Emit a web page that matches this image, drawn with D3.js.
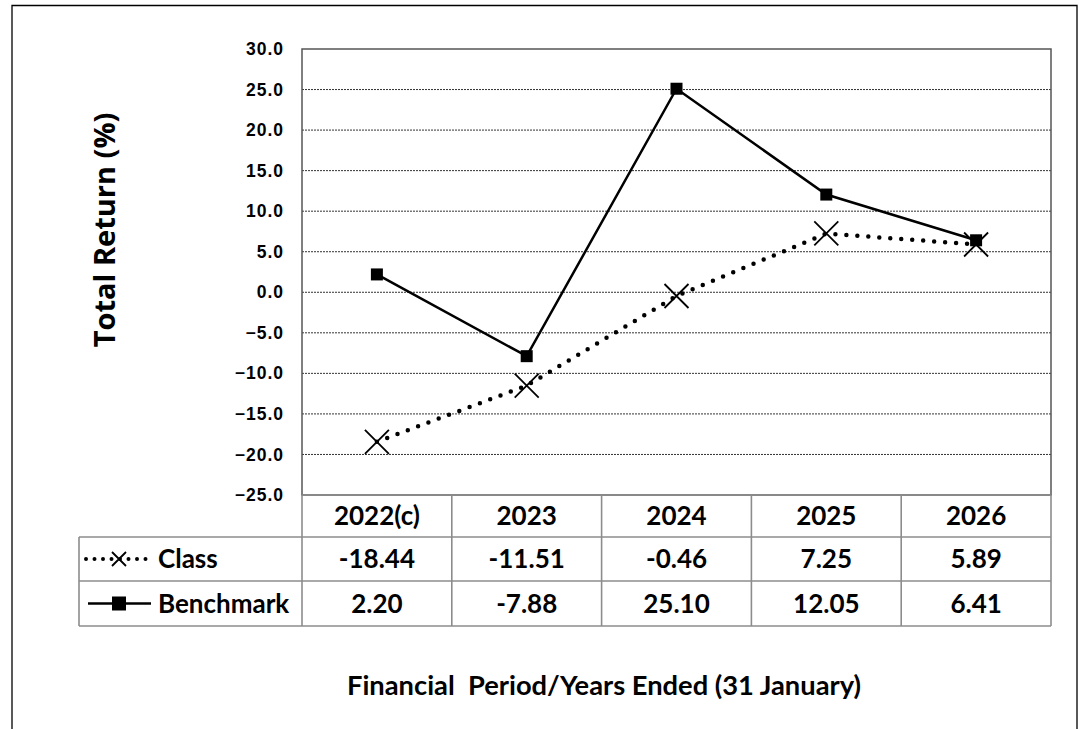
<!DOCTYPE html>
<html><head><meta charset="utf-8">
<script src="https://cdn.jsdelivr.net/npm/d3@7"></script>
<style>body{margin:0;background:#fff}</style>
</head><body>
<svg id="c" width="1079" height="729"></svg>
<script>
const categories = ["2022(c)", "2023", "2024", "2025", "2026"];
const classValues = [-18.44, -11.51, -0.46, 7.25, 5.89];
const benchmarkValues = [2.20, -7.88, 25.10, 12.05, 6.41];
const classLabels = ["-18.44", "-11.51", "-0.46", "7.25", "5.89"];
const benchmarkLabels = ["2.20", "-7.88", "25.10", "12.05", "6.41"];
const yTicks = [-25, -20, -15, -10, -5, 0, 5, 10, 15, 20, 25, 30];

const svg = d3.select("#c");
const L = 302, R = 1051, T = 49, B = 495;
const x = d3.scaleBand().domain(categories).range([L, R]);
const y = d3.scaleLinear().domain([-25, 30]).range([B, T]);

// outer frame
svg.append("path").attr("d", `M12,729 V5.5 H1077 V729`).attr("fill","none").attr("stroke","#000").attr("stroke-width",1.3);

// gridlines
svg.append("g").selectAll("line").data(yTicks.filter(d => d > -25 && d < 30)).join("line")
  .attr("x1", L).attr("x2", R).attr("y1", d => y(d)).attr("y2", d => y(d))
  .attr("stroke", "#333").attr("stroke-width", 1).attr("stroke-dasharray", "2,1");

// plot border
svg.append("rect").attr("x", L).attr("y", T).attr("width", R-L).attr("height", B-T)
  .attr("fill","none").attr("stroke","#555").attr("stroke-width",1.5);

// y axis labels
const yAxis = d3.axisLeft(y).tickValues(yTicks).tickSize(0).tickPadding(18).tickFormat(d3.format(".1f"));
const ga = svg.append("g").attr("transform", `translate(${L},0)`).call(yAxis);
ga.select(".domain").remove();
ga.selectAll("text").attr("font-family","Liberation Sans, Arial, sans-serif").attr("font-weight","bold")
  .attr("font-size", 17.5).attr("letter-spacing", 1).attr("fill","#000");

// y title
svg.append("text").attr("transform", "translate(115,230) rotate(-90)").attr("text-anchor","middle")
  .attr("font-family","Open Sans, sans-serif").attr("font-weight","bold").attr("font-size",29).text("Total Return (%)");

// lines
const cx = d => x(d) + x.bandwidth()/2;
const line = d3.line().x((d,i) => cx(categories[i])).y(d => y(d));
svg.append("path").attr("d", line(benchmarkValues)).attr("fill","none").attr("stroke","#000").attr("stroke-width",2.5);
svg.append("path").attr("d", line(classValues)).attr("fill","none").attr("stroke","#000").attr("stroke-width",4.5)
  .attr("stroke-linecap","round").attr("stroke-dasharray","0,11");

// markers
svg.append("g").selectAll("rect").data(benchmarkValues).join("rect")
  .attr("x", (d,i) => cx(categories[i]) - 6).attr("y", d => y(d) - 6).attr("width", 12).attr("height", 12).attr("fill","#000");
const cross = (g, s) => g.append("path").attr("d", `M${-s},${-s}L${s},${s}M${-s},${s}L${s},${-s}`).attr("stroke","#000").attr("stroke-width",1.8);
classValues.forEach((d,i) => cross(svg.append("g").attr("transform", `translate(${cx(categories[i])},${y(d)})`), 12));

// table
const rows = [495, 537, 581, 626];
const tL = 79;
const gray = "#8c8c8c";
const tg = svg.append("g").attr("stroke", gray).attr("stroke-width", 1.6).attr("fill","none");
tg.append("line").attr("x1", L).attr("x2", R).attr("y1", rows[0]).attr("y2", rows[0]);
tg.append("line").attr("x1", tL).attr("x2", R).attr("y1", rows[1]).attr("y2", rows[1]);
tg.append("line").attr("x1", tL).attr("x2", R).attr("y1", rows[2]).attr("y2", rows[2]);
tg.append("line").attr("x1", tL).attr("x2", R).attr("y1", rows[3]).attr("y2", rows[3]);
tg.append("line").attr("x1", tL).attr("x2", tL).attr("y1", rows[1]).attr("y2", rows[3]);
categories.forEach(c => tg.append("line").attr("x1", x(c)).attr("x2", x(c)).attr("y1", rows[0]).attr("y2", rows[3]));
tg.append("line").attr("x1", R).attr("x2", R).attr("y1", rows[0]).attr("y2", rows[3]);

const tf = (sel) => sel.attr("font-family","Lato, sans-serif").attr("font-weight","bold").attr("font-size",26).attr("fill","#000");
const mid = i => (rows[i] + rows[i+1]) / 2 + 9;
categories.forEach((c,i) => {
  tf(svg.append("text").attr("x", cx(c)).attr("y", mid(0)).attr("text-anchor","middle").text(c));
  tf(svg.append("text").attr("x", cx(c)).attr("y", mid(1)).attr("text-anchor","middle").text(classLabels[i]));
  tf(svg.append("text").attr("x", cx(c)).attr("y", mid(2)).attr("text-anchor","middle").text(benchmarkLabels[i]));
});
// legend keys
const ky1 = (rows[1]+rows[2])/2, ky2 = (rows[2]+rows[3])/2;
svg.append("line").attr("x1", 86).attr("x2", 151).attr("y1", ky1).attr("y2", ky1)
  .attr("stroke","#000").attr("stroke-width",4).attr("stroke-linecap","round").attr("stroke-dasharray","0,8.5");
cross(svg.append("g").attr("transform", `translate(119,${ky1})`), 7);
svg.append("line").attr("x1", 88).attr("x2", 151).attr("y1", ky2).attr("y2", ky2).attr("stroke","#000").attr("stroke-width",2.5);
svg.append("rect").attr("x", 112).attr("y", ky2-7).attr("width", 14).attr("height", 14).attr("fill","#000");
tf(svg.append("text").attr("x", 158).attr("y", mid(1)).text("Class"));
tf(svg.append("text").attr("x", 158).attr("y", mid(2)).text("Benchmark"));

// x title
svg.append("text").attr("x", 604).attr("y", 695).attr("text-anchor","middle")
  .attr("font-family","Lato, sans-serif").attr("font-weight","bold").attr("font-size",27.3).attr("xml:space","preserve")
  .text("Financial  Period/Years Ended (31 January)");
</script>
</body></html>
